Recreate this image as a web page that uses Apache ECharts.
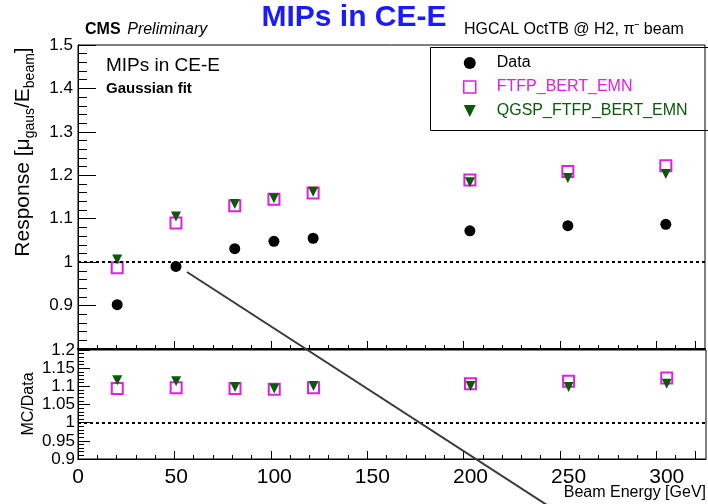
<!DOCTYPE html>
<html><head><meta charset="utf-8">
<script src="https://cdn.jsdelivr.net/npm/echarts@6/dist/echarts.min.js"></script>
<style>html,body{margin:0;padding:0;background:#fff}#wrap{position:relative;width:708px;height:504px}#c,#a,#o{position:absolute;left:0;top:0;width:708px;height:504px}#a,#o{pointer-events:none}</style>
</head><body><div id="wrap"><div id="c"></div><div id="a"></div><div id="o"></div></div>
<script>
const energies = [20, 50, 80, 100, 120, 200, 250, 300];
const dataResp = [0.902, 0.990, 1.031, 1.048, 1.055, 1.072, 1.084, 1.087];
const ftfpResp = [0.987, 1.090, 1.130, 1.145, 1.159, 1.189, 1.209, 1.222];
const qgspResp = [1.006, 1.105, 1.134, 1.147, 1.162, 1.184, 1.194, 1.203];
const ftfpRatio = [1.094, 1.096, 1.094, 1.092, 1.096, 1.107, 1.114, 1.123];
const qgspRatio = [1.117, 1.114, 1.098, 1.094, 1.101, 1.101, 1.098, 1.107];
const seriesNames = ['Data', 'FTFP_BERT_EMN', 'QGSP_FTFP_BERT_EMN'];
const colors = ['#000000', '#e020e0', '#0a5a0a'];

const FONT = 'Liberation Sans, Arial, Helvetica, sans-serif';
const pairs = arr => energies.map((e, i) => [e, arr[i]]);
const fmt = v => String(parseFloat(v.toFixed(2)));
const dotted = () => ({silent: true, symbol: 'none', label: {show: false},
  lineStyle: {color: '#000', type: [3, 3], width: 2}, data: [{yAxis: 1}]});
const downTri = 'path://M0,0 L10,0 L5,10 Z';

const gridDefs = [
  {left: 78, top: 45, width: 628, height: 304, show: true, borderColor: '#000'},
  {left: 78, top: 350, width: 628, height: 109, show: true, borderColor: '#000'}
];

// Main chart: frames, labels, data
const chart = echarts.init(document.getElementById('c'));
chart.setOption({
  animation: false,
  backgroundColor: '#fff',
  grid: gridDefs,
  xAxis: [
    {gridIndex: 0, type: 'value', min: 0, max: 320, interval: 50,
     axisLine: {show: true, lineStyle: {color: '#000', width: 2}},
     axisLabel: {formatter: () => ''}, axisTick: {show: false}, splitLine: {show: false}},
    {gridIndex: 1, type: 'value', min: 0, max: 320, interval: 50,
     axisLine: {show: true, lineStyle: {color: '#000'}},
     axisLabel: {color: '#000', fontSize: 21, fontFamily: FONT, margin: 8, showMaxLabel: false},
     axisTick: {show: false}, splitLine: {show: false}}
  ],
  yAxis: [
    {gridIndex: 0, type: 'value', min: 0.8, max: 1.5, interval: 0.1,
     axisLine: {show: true, lineStyle: {color: '#000'}},
     axisLabel: {color: '#000', fontSize: 17, fontFamily: FONT, margin: 5, showMinLabel: false, formatter: fmt},
     axisTick: {show: false}, splitLine: {show: false}},
    {gridIndex: 1, type: 'value', min: 0.9, max: 1.2, interval: 0.05,
     axisLine: {show: true, lineStyle: {color: '#000'}},
     axisLabel: {color: '#000', fontSize: 17, fontFamily: FONT, margin: 3, formatter: fmt},
     axisTick: {show: false}, splitLine: {show: false}}
  ],
  series: [
    {name: seriesNames[0], type: 'scatter', xAxisIndex: 0, yAxisIndex: 0, data: pairs(dataResp),
     symbol: 'circle', symbolSize: 11, itemStyle: {color: colors[0], opacity: 1}, markLine: dotted()},
    {name: seriesNames[1], type: 'scatter', xAxisIndex: 0, yAxisIndex: 0, data: pairs(ftfpResp),
     symbol: 'emptyRect', symbolSize: 11, itemStyle: {color: colors[1], borderWidth: 1.5, opacity: 1}},
    {name: seriesNames[2], type: 'scatter', xAxisIndex: 0, yAxisIndex: 0, data: pairs(qgspResp),
     symbol: 'triangle', symbolRotate: 180, symbolSize: 10, itemStyle: {color: colors[2], opacity: 1}},
    {name: seriesNames[1], type: 'scatter', xAxisIndex: 1, yAxisIndex: 1, data: pairs(ftfpRatio),
     symbol: 'emptyRect', symbolSize: 11, itemStyle: {color: colors[1], borderWidth: 1.5, opacity: 1}, markLine: dotted()},
    {name: seriesNames[2], type: 'scatter', xAxisIndex: 1, yAxisIndex: 1, data: pairs(qgspRatio),
     symbol: 'triangle', symbolRotate: 180, symbolSize: 10, itemStyle: {color: colors[2], opacity: 1}}
  ]
});

// Axis overlay: same grids and scales, only inside ticks (ROOT style)
const t = len => ({show: true, inside: true, length: len, lineStyle: {color: '#000', width: 1}});
const m = len => ({show: true, splitNumber: 5, length: len, lineStyle: {color: '#000', width: 1}});
const hiddenLabel = {color: 'rgba(0,0,0,0)'};
const axes = echarts.init(document.getElementById('a'));
axes.setOption({
  animation: false,
  grid: gridDefs.map(g => Object.assign({}, g, {show: false})),
  xAxis: [
    {gridIndex: 0, type: 'value', min: 0, max: 320, interval: 50, axisLine: {show: true, lineStyle: {color: '#000', width: 2}},
     axisLabel: hiddenLabel, axisTick: t(8), minorTick: m(4), splitLine: {show: false}},
    {gridIndex: 1, type: 'value', min: 0, max: 320, interval: 50, axisLine: {show: true, lineStyle: {color: '#000'}},
     axisLabel: hiddenLabel, axisTick: t(8), minorTick: m(4), splitLine: {show: false}}
  ],
  yAxis: [
    {gridIndex: 0, type: 'value', min: 0.8, max: 1.5, interval: 0.1, axisLine: {show: true, lineStyle: {color: '#000'}},
     axisLabel: hiddenLabel, axisTick: t(18), minorTick: m(9), splitLine: {show: false}},
    {gridIndex: 1, type: 'value', min: 0.9, max: 1.2, interval: 0.05, axisLine: {show: true, lineStyle: {color: '#000'}},
     axisLabel: hiddenLabel, axisTick: t(12), minorTick: m(6), splitLine: {show: false}}
  ]
});

// Text overlay: legend, titles and annotations
const over = echarts.init(document.getElementById('o'));
over.setOption({
  animation: false,
  legend: {
    orient: 'vertical', left: 458, top: 50, itemGap: 8, itemWidth: 12, itemHeight: 12,
    textStyle: {fontSize: 16, fontFamily: FONT, padding: [0, 0, 0, 16]},
    data: [
      {name: seriesNames[0], icon: 'circle', itemStyle: {color: colors[0]}, textStyle: {color: colors[0]}},
      {name: seriesNames[1], icon: 'rect', itemStyle: {color: '#fff', borderColor: colors[1], borderWidth: 1.5}, textStyle: {color: colors[1]}},
      {name: seriesNames[2], icon: downTri, itemStyle: {color: colors[2]}, textStyle: {color: colors[2]}}
    ]
  },
  xAxis: {show: false, type: 'value'}, yAxis: {show: false, type: 'value'},
  grid: {left: 0, top: 0, width: 1, height: 1},
  series: seriesNames.map((n, i) => ({name: n, type: 'scatter', data: [], itemStyle: {color: colors[i], opacity: 1}})),
  graphic: [
    {type: 'rect', left: 428, top: 45, shape: {width: 279, height: 83}, style: {fill: 'none', stroke: '#000', lineWidth: 1}},
    {type: 'text', left: 'center', top: 3, style: {text: 'MIPs in CE-E', fill: '#1a1aff', font: 'bold 30px ' + FONT}},
    {type: 'text', left: 85, top: 22, style: {text: '{b|CMS}  {i|Preliminary}', rich: {b: {font: 'bold 16px ' + FONT, fill: '#000'}, i: {font: 'italic 16px ' + FONT, fill: '#000'}}}},
    {type: 'text', left: 464, top: 22, style: {text: 'HGCAL OctTB @ H2, π⁻ beam', font: '16px ' + FONT, fill: '#000'}},
    {type: 'text', left: 106, top: 56, style: {text: 'MIPs in CE-E', font: '19px ' + FONT, fill: '#000'}},
    {type: 'text', left: 106, top: 81, style: {text: 'Gaussian fit', font: 'bold 15px ' + FONT, fill: '#000'}},
    {type: 'text', x: 25, y: 152, rotation: Math.PI / 2,
     style: {text: '{n|Response [μ}{s|gaus}{n|/E}{s|beam}{n|]}', align: 'center', verticalAlign: 'middle',
       rich: {n: {font: '21px ' + FONT, fill: '#000', lineHeight: 24, verticalAlign: 'top'},
              s: {font: '14px ' + FONT, fill: '#000', lineHeight: 24, verticalAlign: 'bottom', padding: [9, 0, 0, 0]}}}},
    {type: 'text', x: 29, y: 404, rotation: Math.PI / 2,
     style: {text: 'MC/Data', align: 'center', verticalAlign: 'middle', font: '16px ' + FONT, fill: '#000'}},
    {type: 'text', right: 2, top: 485, style: {text: 'Beam Energy [GeV]', font: '16px ' + FONT, fill: '#000'}},
    {type: 'line', shape: {x1: 187, y1: 272, x2: 550, y2: 507}, style: {stroke: '#3a3a3a', lineWidth: 2}}
  ]
});
</script></body></html>
